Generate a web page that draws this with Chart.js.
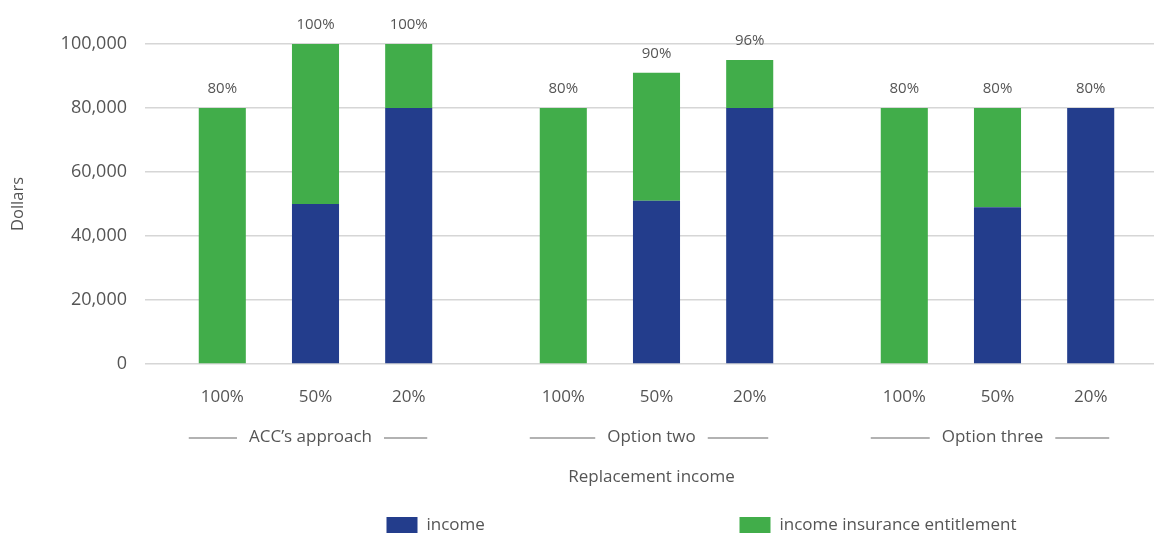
<!DOCTYPE html>
<html>
<head>
<meta charset="utf-8">
<script src="https://cdn.jsdelivr.net/npm/chart.js@4.4.1/dist/chart.umd.min.js"></script>
<style>
  html, body { margin: 0; padding: 0; background: #fff; overflow: hidden; }
  #clip { width: 1154px; height: 536px; overflow: hidden; }
  #wrap { width: 1170px; height: 536px; position: relative; }
</style>
</head>
<body>
<div id="clip"><div id="wrap"><canvas id="stats"></canvas></div></div>
<script>
// categories
const groups = ["ACC\u2019s approach", "Option two", "Option three"];
const levels = ["100%", "50%", "20%"];

// income (blue) per replacement level, one value per group
const income100 = [0, 0, 0];
const income50 = [50000, 51000, 49000];
const income20 = [80000, 80000, 80000];

// income insurance entitlement (green)
const insurance100 = [80000, 80000, 80000];
const insurance50 = [50000, 40000, 31000];
const insurance20 = [20000, 15000, 0];

// labels above each bar
const total100 = ["80%", "80%", "80%"];
const total50 = ["100%", "90%", "80%"];
const total20 = ["100%", "96%", "80%"];

const yTicks = [0, 20000, 40000, 60000, 80000, 100000];

const BLUE = "#233d8c";
const GREEN = "#41ad4a";
const TEXT = "#555";
const FONT = "'Open Sans', 'Noto Sans', sans-serif";

const incomeBy = [income100, income50, income20];
const insuranceBy = [insurance100, insurance50, insurance20];
const totalsBy = [total100, total50, total20];

const datasets = [];
levels.forEach(function (lvl, i) {
  datasets.push({ label: "income", stack: lvl, data: incomeBy[i], backgroundColor: BLUE });
  datasets.push({ label: "income insurance entitlement", stack: lvl, data: insuranceBy[i], backgroundColor: GREEN });
});

const overlay = {
  id: "overlay",
  afterDatasetsDraw(chart) {
    const ctx = chart.ctx;
    const area = chart.chartArea;
    ctx.save();
    ctx.fillStyle = TEXT;
    ctx.textAlign = "center";
    ctx.textBaseline = "middle";

    // value labels on top of bars and level labels below
    levels.forEach(function (lvl, li) {
      const inc = chart.getDatasetMeta(li * 2).data;
      const ins = chart.getDatasetMeta(li * 2 + 1).data;
      groups.forEach(function (g, gi) {
        const top = Math.min(inc[gi].y, ins[gi].y);
        ctx.font = "15px " + FONT;
        ctx.fillText(totalsBy[li][gi], inc[gi].x, top - 19);
        ctx.font = "17px " + FONT;
        ctx.fillText(lvl, inc[gi].x, area.bottom + 33);
      });
    });

    // group labels with side rules
    const first = chart.getDatasetMeta(0).data;
    const last = chart.getDatasetMeta(4).data;
    const mid = chart.getDatasetMeta(2).data;
    ctx.font = "17px " + FONT;
    groups.forEach(function (g, gi) {
      const y = area.bottom + 73;
      const cx = mid[gi].x - 5;
      const w = ctx.measureText(g).width;
      const l0 = first[gi].x - first[gi].width / 2 - 10;
      const r0 = last[gi].x + last[gi].width / 2 - 5;
      ctx.fillText(g, cx, y);
      ctx.strokeStyle = "#999";
      ctx.lineWidth = 1.5;
      ctx.beginPath();
      ctx.moveTo(l0, y + 1);
      ctx.lineTo(cx - w / 2 - 12, y + 1);
      ctx.moveTo(cx + w / 2 + 12, y + 1);
      ctx.lineTo(r0, y + 1);
      ctx.stroke();
    });

    // axis title
    ctx.fillText("Replacement income", (area.left + area.right) / 2 - 5, area.bottom + 113);

    // legend
    const ly = area.bottom + 161;
    const cx0 = (area.left + area.right) / 2;
    const items = [[BLUE, "income", cx0 - 270], [GREEN, "income insurance entitlement", cx0 + 83]];
    ctx.textAlign = "left";
    items.forEach(function (it) {
      ctx.fillStyle = it[0];
      ctx.fillRect(it[2], ly - 8, 31, 16);
      ctx.fillStyle = TEXT;
      ctx.fillText(it[1], it[2] + 40, ly);
    });
    ctx.restore();
  }
};

new Chart("stats", {
  type: "bar",
  data: { labels: groups, datasets: datasets },
  plugins: [overlay],
  options: {
    responsive: true,
    maintainAspectRatio: false,
    animation: false,
    layout: { padding: { top: 44, right: 2, left: 0, bottom: 0 } },
    datasets: { bar: { categoryPercentage: 0.82, barPercentage: 0.505 } },
    plugins: { legend: { display: false }, tooltip: { enabled: false } },
    scales: {
      x: {
        stacked: true,
        grid: { display: false },
        border: { display: false },
        ticks: { display: false },
        afterFit: function (s) { s.height = 172; }
      },
      y: {
        stacked: true,
        min: 0,
        max: 100000,
        afterBuildTicks: function (s) { s.ticks = yTicks.map(function (v) { return { value: v }; }); },
        afterFit: function (s) { s.width = 145; },
        grid: { color: "#d6d6d6", lineWidth: 1.5, drawTicks: false },
        border: { display: false },
        ticks: {
          padding: 18,
          color: TEXT,
          font: { family: FONT, size: 18 },
          callback: function (v) { return v.toLocaleString("en-US"); }
        },
        title: {
          display: true,
          text: "Dollars",
          color: TEXT,
          font: { family: FONT, size: 16.5 },
          padding: { top: 8, bottom: 0 }
        }
      }
    }
  }
});
</script>
</body>
</html>
